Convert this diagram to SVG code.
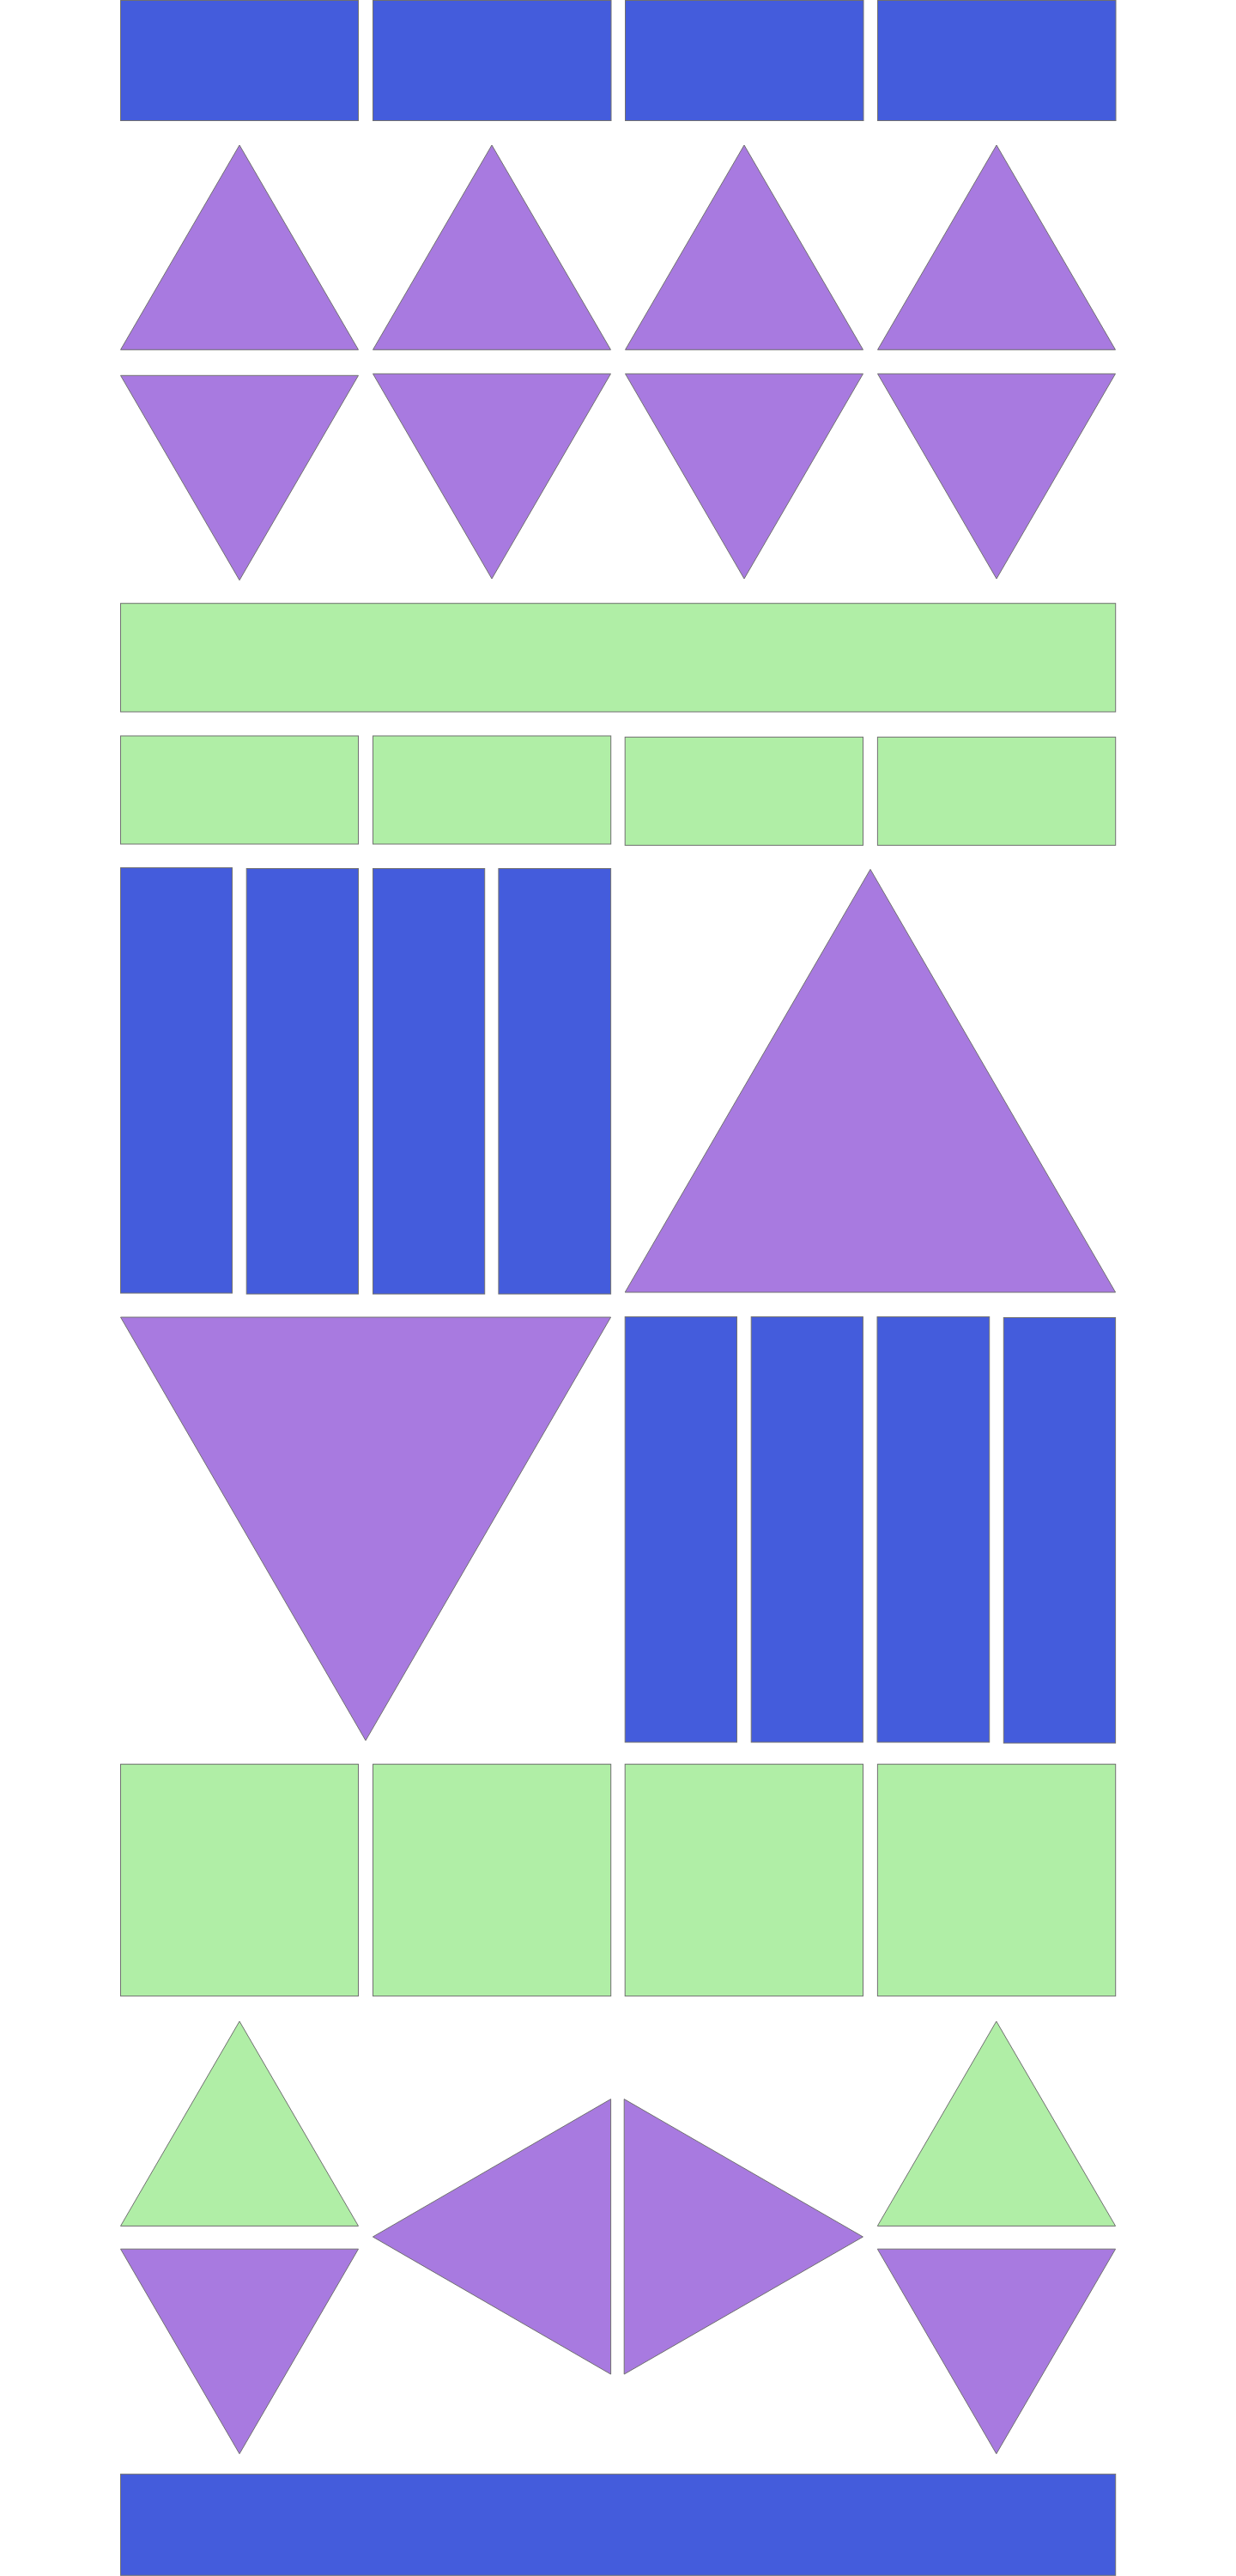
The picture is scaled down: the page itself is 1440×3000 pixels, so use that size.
<svg xmlns="http://www.w3.org/2000/svg" width="1440" height="3000" viewBox="0 0 1440 3000">
<style>
.b{fill:#445cdc;stroke:#707070;stroke-width:1}
.p{fill:#a87ae0;stroke:#707070;stroke-width:1}
.g{fill:#b0eea6;stroke:#707070;stroke-width:1}
</style>
<rect width="1440" height="3000" fill="#ffffff"/>
<g id="row1">
<rect id="r1c1" class="b" x="140.5" y="0.5" width="277" height="140"/>
<rect id="r1c2" class="b" x="434.5" y="0.5" width="277.5" height="140"/>
<rect id="r1c3" class="b" x="728.5" y="0.5" width="277.5" height="140"/>
<rect id="r1c4" class="b" x="1022.5" y="0.5" width="277.5" height="140"/>
</g>
<g id="row2">
<polygon id="t2c1" class="p" points="279,169 417.5,407.3 140.5,407.3"/>
<polygon id="t2c2" class="p" points="573,169 711.5,407.3 434.5,407.3"/>
<polygon id="t2c3" class="p" points="867,169 1005.5,407.3 728.5,407.3"/>
<polygon id="t2c4" class="p" points="1161,169 1299.5,407.3 1022.5,407.3"/>
</g>
<g id="row3">
<polygon id="t3c1" class="p" points="140.5,437.3 417.5,437.3 279,675.7"/>
<polygon id="t3c2" class="p" points="434.5,435.3 711.5,435.3 573,674"/>
<polygon id="t3c3" class="p" points="728.5,435.3 1005.5,435.3 867,674"/>
<polygon id="t3c4" class="p" points="1022.5,435.3 1299.5,435.3 1161,674"/>
</g>
<g id="row4">
<rect id="wide-green" class="g" x="140.5" y="702.7" width="1159.2" height="126.3"/>
</g>
<g id="row5">
<rect id="r5c1" class="g" x="140.5" y="857" width="277" height="126"/>
<rect id="r5c2" class="g" x="434.5" y="857" width="277.2" height="126"/>
<rect id="r5c3" class="g" x="728.2" y="858.4" width="277.3" height="126"/>
<rect id="r5c4" class="g" x="1022.4" y="858.4" width="277.3" height="126"/>
</g>
<g id="row6">
<rect id="r6a" class="b" x="140.5" y="1010.6" width="130" height="495.4"/>
<rect id="r6b" class="b" x="287.2" y="1011.5" width="130.3" height="495.5"/>
<rect id="r6c" class="b" x="434.5" y="1011.5" width="130.2" height="495.5"/>
<rect id="r6d" class="b" x="580.9" y="1011.5" width="130.7" height="495.5"/>
<polygon id="big-up" class="p" points="1014,1012.4 1299.6,1505 728.2,1505"/>
</g>
<g id="row7">
<polygon id="big-down" class="p" points="140.5,1534 711.6,1534 426,2027"/>
<rect id="r7a" class="b" x="728.2" y="1533.6" width="130.3" height="495.4"/>
<rect id="r7b" class="b" x="875.2" y="1533.6" width="130.2" height="495.4"/>
<rect id="r7c" class="b" x="1022" y="1533.6" width="130.7" height="495.4"/>
<rect id="r7d" class="b" x="1169.3" y="1534.5" width="130.3" height="495.5"/>
</g>
<g id="row8">
<rect id="r8c1" class="g" x="140.5" y="2054.6" width="277" height="270"/>
<rect id="r8c2" class="g" x="434.5" y="2054.6" width="277.2" height="270"/>
<rect id="r8c3" class="g" x="728.2" y="2054.6" width="277.3" height="270"/>
<rect id="r8c4" class="g" x="1022.4" y="2054.6" width="277.3" height="270"/>
</g>
<g id="row9">
<polygon id="g-up-1" class="g" points="279,2354 417.5,2592.4 140.5,2592.4"/>
<polygon id="p-down-1" class="p" points="140.5,2619.2 417.5,2619.2 279,2857.7"/>
<polygon id="p-left" class="p" points="711.6,2444.6 711.6,2765 434.4,2605"/>
<polygon id="p-right" class="p" points="727.2,2444.6 727.2,2765 1005.4,2605"/>
<polygon id="g-up-4" class="g" points="1160.8,2354 1299.6,2592.4 1022.3,2592.4"/>
<polygon id="p-down-4" class="p" points="1022.3,2619.2 1299.6,2619.2 1160.8,2857.7"/>
</g>
<g id="row10">
<rect id="wide-blue" class="b" x="140.5" y="2881.3" width="1159.2" height="118"/>
</g>
<g id="connectors"></g>
</svg>
